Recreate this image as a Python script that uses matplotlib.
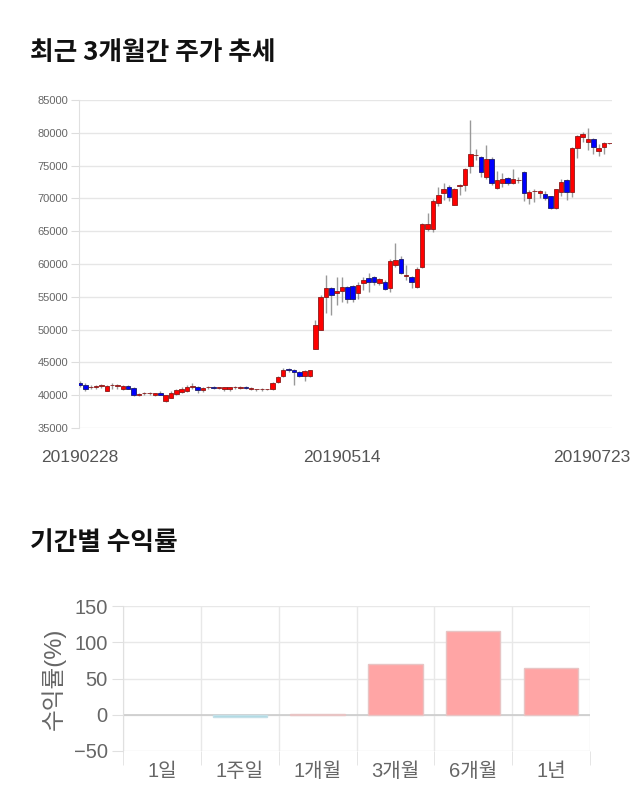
import numpy as np
import matplotlib
matplotlib.use('Agg')
import matplotlib.pyplot as plt
import matplotlib.transforms as mtransforms

plt.rcParams['font.family'] = ['Liberation Sans', 'Noto Sans CJK KR']

# 일봉 데이터 (2019-02-28 ~ 2019-07-23)
opens = [41900, 41600, 41200, 41200, 41400, 40700, 41500, 41450, 41000, 41400,
         41100, 40000, 40300, 40300, 40000, 40400, 39100, 39600, 40200, 40500,
         40600, 41300, 41300, 40800, 41200, 41300, 41100, 41000, 40900, 41200,
         41100, 41300, 41000, 40900, 40900, 40900, 41000, 42000, 42900, 44000,
         43900, 43500, 42900, 42900, 47100, 50000, 55000, 56300, 55600, 55900,
         56500, 56600, 55600, 57100, 57800, 58000, 57100, 57200, 56300, 59800,
         60800, 58200, 58000, 56500, 59500, 65300, 65300, 69300, 70800, 71800,
         69000, 71900, 72000, 75000, 76600, 76300, 73300, 76000, 71600, 72400,
         73100, 72400, 72800, 74000, 70100, 71100, 70800, 70700, 70300, 68500,
         71000, 72800, 71000, 77700, 79400, 78600, 79000, 77300, 77800, 78400]
highs = [42100, 41900, 41500, 41600, 41700, 41500, 41900, 41700, 41500, 41500,
         41200, 40300, 40500, 40500, 40400, 40600, 40100, 40600, 40900, 41200,
         41500, 41800, 41400, 41200, 41400, 41400, 41300, 41300, 41300, 41400,
         41400, 41400, 41200, 41000, 41100, 41000, 42000, 43000, 44100, 44200,
         44000, 43700, 43800, 43900, 51500, 55200, 58300, 56500, 58000, 58000,
         56700, 56800, 57300, 58000, 58600, 58200, 57800, 57600, 60700, 63200,
         61200, 59800, 58200, 59500, 66200, 67700, 69900, 71800, 72300, 72000,
         71600, 72200, 74700, 82000, 77500, 76500, 78200, 76300, 74200, 73800,
         73300, 74500, 73300, 74200, 71300, 71400, 71300, 71200, 70400, 71500,
         73000, 73000, 77800, 79700, 80100, 80700, 79200, 78300, 78600, 78500]
lows = [41300, 40600, 40900, 41000, 41100, 40600, 41000, 40900, 40800, 40900,
        39900, 39900, 40100, 40100, 39900, 40000, 39000, 39500, 40000, 40400,
        40500, 41000, 40300, 40500, 41000, 40900, 40900, 40700, 40700, 41000,
        40900, 40900, 40800, 40700, 40700, 40800, 40800, 41800, 42700, 43600,
        41500, 42700, 42200, 42700, 47000, 49900, 52500, 52200, 53700, 54200,
        54000, 54200, 54700, 56000, 55800, 56800, 56800, 56000, 55800, 59500,
        58500, 57600, 56300, 56300, 59400, 65000, 64900, 68800, 69800, 69600,
        69000, 70500, 71200, 73800, 75800, 73300, 73000, 72000, 71400, 71700,
        72000, 72200, 72300, 69600, 69200, 69500, 70000, 69800, 68400, 68400,
        70300, 69800, 70200, 76100, 78600, 77400, 76700, 76500, 76700, 78300]
closes = [41500, 41000, 41300, 41350, 41400, 41400, 41550, 41550, 41400, 41000,
          40000, 40200, 40300, 40350, 40300, 40100, 40000, 40400, 40800, 41000,
          41300, 41300, 40800, 41100, 41200, 41100, 41150, 41200, 41200, 41200,
          41300, 41100, 41000, 40900, 40900, 40900, 41900, 42800, 43900, 43800,
          43500, 42900, 43700, 43800, 50700, 55000, 56300, 55300, 55900, 56500,
          54600, 54700, 56800, 57500, 57200, 57200, 57700, 56200, 60500, 60600,
          58700, 58200, 57200, 59200, 66100, 66100, 69600, 70500, 71400, 70200,
          71400, 71900, 74500, 76800, 76600, 74000, 76000, 72400, 72800, 73000,
          72300, 73000, 72800, 70800, 71000, 71100, 71100, 70100, 68500, 71400,
          72500, 71000, 77700, 79500, 79800, 79000, 77800, 77700, 78400, 78400]
date_labels = ['20190228', '20190514', '20190723']

# 기간별 수익률
periods = ['1일', '1주일', '1개월', '3개월', '6개월', '1년']
returns = [0.0, -3.0, 0.5, 70.0, 116.0, 65.0]

fig = plt.figure(figsize=(6.4, 8.1), dpi=100)

fig.text(30 / 640, 1 - 52 / 810, '최근 3개월간 주가 추세', fontsize=18.5, fontweight='bold',
         family='Noto Sans CJK KR', va='center', ha='left', color='#111111')
fig.text(30 / 640, 1 - 543 / 810, '기간별 수익률', fontsize=18.5, fontweight='bold',
         family='Noto Sans CJK KR', va='center', ha='left', color='#111111')

# 1. 캔들 차트
ax1 = fig.add_axes([79 / 640, 1 - 428 / 810, 533 / 640, 328 / 810])
o = np.array(opens)
h = np.array(highs)
l = np.array(lows)
c = np.array(closes)
idx = np.arange(len(o))
up = c >= o
body_bottom = np.minimum(o, c)
body_height = np.maximum(np.abs(c - o), 80)

ax1.vlines(idx, l, h, color='#999999', linewidth=1, zorder=2)
ax1.bar(idx[up], body_height[up], bottom=body_bottom[up], width=0.85,
        color='#ff0000', edgecolor='#8b1a1a', linewidth=0.6, zorder=3)
ax1.bar(idx[~up], body_height[~up], bottom=body_bottom[~up], width=0.85,
        color='#0000ff', edgecolor='#1a1a6b', linewidth=0.6, zorder=3)

ax1.set_xlim(-0.2, 99.5)
ax1.set_ylim(35000, 85000)
ax1.set_yticks(np.arange(35000, 85001, 5000))
ax1.tick_params(axis='y', labelsize=8, colors='#dddddd', labelcolor='#666666', length=6, pad=2)
ax1.set_xticks([0, 49, len(o) - 1])
ax1.set_xticklabels(date_labels)
ax1.tick_params(axis='x', length=0, labelsize=12.5, labelcolor='#555555', pad=16)
labels = ax1.get_xticklabels()
labels[-1].set_ha('right')
labels[-1].set_transform(labels[-1].get_transform() +
                         mtransforms.ScaledTranslation(0.21, 0, fig.dpi_scale_trans))
ax1.grid(axis='y', color='#e6e6e6', linewidth=1)
ax1.set_axisbelow(True)
for s in ['top', 'right', 'bottom']:
    ax1.spines[s].set_visible(False)
ax1.spines['left'].set_color('#e0e0e0')

# 2. 기간별 수익률 막대
ax2 = fig.add_axes([123 / 640, 1 - 751 / 810, 467 / 640, 145 / 810])
x = np.arange(len(periods))
bar_colors = ['#ffa5a5' if r >= 0 else '#a8d8e2' for r in returns]
edge_colors = ['#e8c4c4' if r >= 0 else '#c4e0e8' for r in returns]
ax2.bar(x, returns, width=0.7, color=bar_colors, edgecolor=edge_colors,
        linewidth=[1 if r != 0 else 0 for r in returns], zorder=3)
ax2.axhline(0, color='#cccccc', linewidth=1.2, zorder=2)
ax2.set_xlim(-0.5, len(periods) - 0.5)
ax2.set_ylim(-50, 150)
ax2.set_yticks([-50, 0, 50, 100, 150])
ax2.set_xticks(x)
ax2.set_xticklabels(periods)
ax2.set_xticks(np.arange(-0.5, len(periods)), minor=True)
ax2.tick_params(axis='x', which='major', length=0, labelsize=14.5, labelcolor='#666666', pad=8)
ax2.tick_params(axis='x', which='minor', length=10, color='#e0e0e0')
ax2.tick_params(axis='y', length=8, color='#e0e0e0', labelsize=14.5, labelcolor='#666666', pad=3)
ax2.grid(axis='y', color='#e8e8e8', linewidth=1)
ax2.grid(axis='x', which='minor', color='#e8e8e8', linewidth=1)
ax2.set_axisbelow(True)
ax2.set_ylabel('수익률(%)', fontsize=17, color='#666666', labelpad=6)
for s in ['top', 'right', 'bottom']:
    ax2.spines[s].set_visible(False)
ax2.spines['left'].set_color('#e0e0e0')

fig.savefig('out.png', dpi=100)
